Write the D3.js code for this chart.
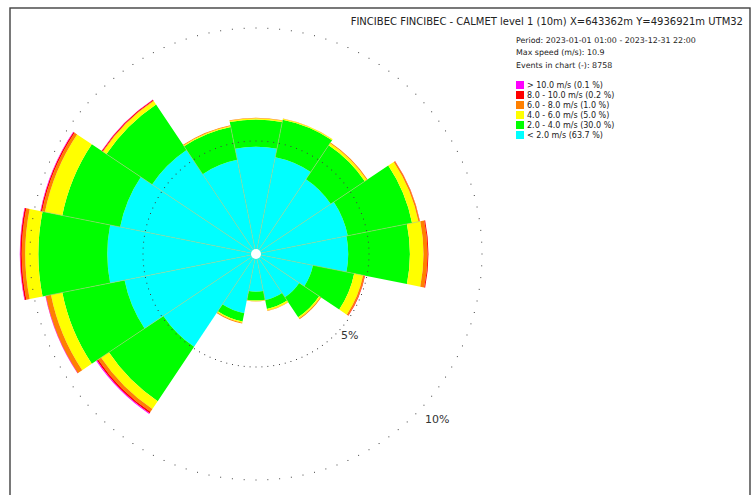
<!DOCTYPE html>
<html>
<head>
<meta charset="utf-8">
<script src="https://cdn.jsdelivr.net/npm/d3@7/dist/d3.min.js"></script>
<style>
  html, body { margin: 0; padding: 0; background: #fff; }
  svg { display: block; font-family: "DejaVu Sans", sans-serif; }
</style>
</head>
<body>
<svg id="rose" width="754" height="495"></svg>
<script>
// Wind directions (16 sectors, clockwise from north)
const directions = ["N", "NNE", "NE", "ENE", "E", "ESE", "SE", "SSE",
                    "S", "SSW", "SW", "WSW", "W", "WNW", "NW", "NNW"];

// Frequency (%) of each speed class per direction
const speedLt2   = [4.75, 4.36, 3.98, 4.14, 4.08, 2.57, 2.30, 2.08, 1.67, 2.67, 4.93, 5.93, 6.58, 6.13, 5.53, 4.25];
const speed2to4  = [1.20, 1.70, 1.81, 2.90, 2.73, 1.86, 1.06, 0.40, 0.39, 0.38, 2.90, 2.81, 3.05, 2.61, 2.43, 1.48];
const speed4to6  = [0.06, 0.04, 0.11, 0.29, 0.60, 0.40, 0.07, 0.07, 0.03, 0.05, 0.42, 0.51, 0.58, 0.78, 0.18, 0.05];
const speed6to8  = [0.02, 0.01, 0.04, 0.06, 0.18, 0.07, 0.04, 0.02, 0.01, 0.04, 0.15, 0.22, 0.15, 0.13, 0.03, 0.03];
const speed8to10 = [0.00, 0.00, 0.00, 0.01, 0.04, 0.02, 0.00, 0.00, 0.00, 0.00, 0.07, 0.02, 0.07, 0.06, 0.04, 0.00];
const speedGt10  = [0.00, 0.00, 0.00, 0.00, 0.00, 0.00, 0.00, 0.00, 0.00, 0.00, 0.04, 0.01, 0.02, 0.02, 0.01, 0.00];

// Speed classes from the calmest (innermost) outwards
const classSeries = [speedLt2, speed2to4, speed4to6, speed6to8, speed8to10, speedGt10];
const classColors = ["#00ffff", "#00ff00", "#ffff00", "#ff8000", "#ff0000", "#ff00ff"];

// Legend entries, top to bottom
const legendLabels = ["> 10.0 m/s (0.1 %)", "8.0 - 10.0 m/s (0.2 %)", "6.0 - 8.0 m/s (1.0 %)",
                      "4.0 - 6.0 m/s (5.0 %)", "2.0 - 4.0 m/s (30.0 %)", "< 2.0 m/s (63.7 %)"];
const legendColors = ["#ff00ff", "#ff0000", "#ff8000", "#ffff00", "#00ff00", "#00ffff"];

// Reference rings (%)
const ringValues = [5, 10];
const ringLabels = ["5%", "10%"];

const titleText = "FINCIBEC FINCIBEC - CALMET level 1 (10m) X=643362m Y=4936921m UTM32";
const infoLines = ["Period: 2023-01-01 01:00 - 2023-12-31 22:00",
                   "Max speed (m/s): 10.9",
                   "Events in chart (-): 8758"];

const svg = d3.select("#rose");
const cx = 256, cy = 254;
const r = d3.scaleLinear().domain([0, 10]).range([0, 226]);
const sectorWidth = 2 * Math.PI / directions.length;

// frame
svg.append("rect")
  .attr("x", 10).attr("y", 8).attr("width", 740).attr("height", 520)
  .attr("fill", "none").attr("stroke", "#404040").attr("stroke-width", 1.4);

const g = svg.append("g").attr("transform", `translate(${cx},${cy})`);

// stacked layers per direction
const stacked = directions.map((d, i) => {
  let acc = 0;
  return classSeries.map((s, k) => {
    const inner = acc;
    acc += s[i];
    return { dir: d, index: i, cls: k, inner, outer: acc };
  });
});
const totals = stacked.map(layers => layers[layers.length - 1].outer);

const arc = d3.arc()
  .innerRadius(d => r(d.inner))
  .outerRadius(d => r(d.outer))
  .startAngle(d => d.index * sectorWidth - sectorWidth / 2)
  .endAngle(d => d.index * sectorWidth + sectorWidth / 2);

g.append("g").selectAll("path")
  .data(stacked.flat().filter(d => d.outer > d.inner))
  .join("path")
  .attr("d", arc)
  .attr("fill", d => classColors[d.cls]);

// thin seams between neighbouring sectors
g.append("g").selectAll("line")
  .data(directions.map((d, i) => ({
    angle: i * sectorWidth + sectorWidth / 2,
    len: Math.min(totals[i], totals[(i + 1) % directions.length])
  })))
  .join("line")
  .attr("x1", 0).attr("y1", 0)
  .attr("x2", d => r(d.len) * Math.sin(d.angle))
  .attr("y2", d => -r(d.len) * Math.cos(d.angle))
  .attr("stroke", "#a8c878")
  .attr("stroke-opacity", 0.85)
  .attr("stroke-width", 0.7);

// dotted reference rings
ringValues.forEach((v, j) => {
  const rr = r(v);
  g.append("g").selectAll("rect")
    .data(d3.range(120))
    .join("rect")
    .attr("x", k => rr * Math.sin(k * Math.PI / 60) - 0.5)
    .attr("y", k => -rr * Math.cos(k * Math.PI / 60) - 0.5)
    .attr("width", 1).attr("height", 1)
    .attr("fill", "#444");
  g.append("text")
    .attr("x", rr * 0.743 + 1)
    .attr("y", rr * 0.743 + 1)
    .attr("font-size", 11)
    .attr("fill", "#333")
    .text(ringLabels[j]);
});

// calm centre
g.append("circle").attr("r", 5).attr("fill", "#fff");

// title and run info
svg.append("text")
  .attr("x", 743).attr("y", 25)
  .attr("text-anchor", "end")
  .attr("font-size", 10)
  .attr("fill", "#222")
  .text(titleText);

svg.append("g").selectAll("text")
  .data(infoLines)
  .join("text")
  .attr("x", 516)
  .attr("y", (d, i) => 43 + i * 12.3)
  .attr("font-size", 7.9)
  .attr("fill", "#222")
  .text(d => d);

// legend
const legend = svg.append("g").attr("transform", "translate(516,81)");
legend.selectAll("rect")
  .data(legendColors)
  .join("rect")
  .attr("x", 0).attr("y", (d, i) => i * 10)
  .attr("width", 8).attr("height", 8)
  .attr("fill", d => d);
legend.selectAll("text")
  .data(legendLabels)
  .join("text")
  .attr("x", 11).attr("y", (d, i) => i * 10 + 7.4)
  .attr("font-size", 8)
  .attr("fill", "#222")
  .text(d => d);
</script>
</body>
</html>
